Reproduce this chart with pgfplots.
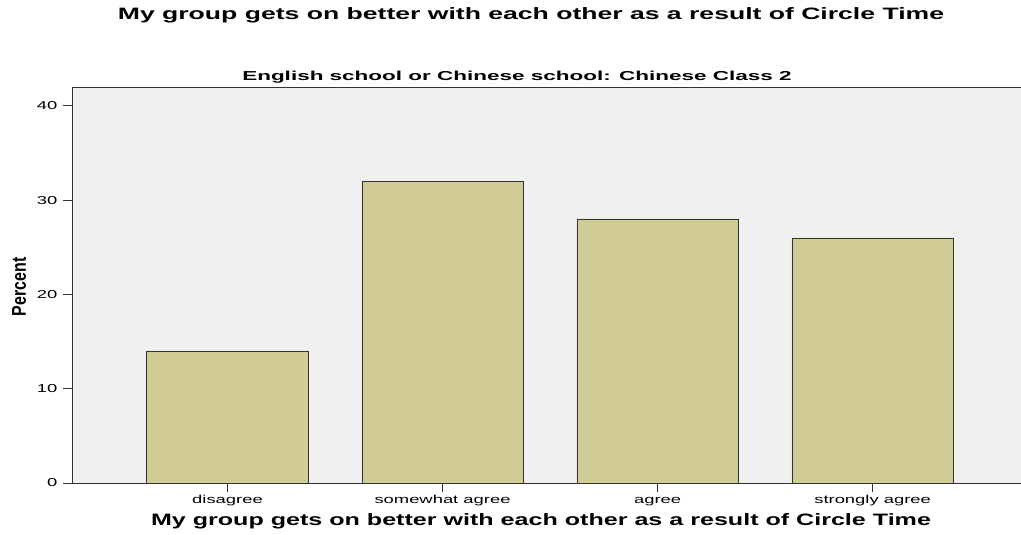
\documentclass[border=0pt]{standalone}
\usepackage{pgfplots}
\pgfplotsset{compat=1.18}
\usepackage{fontspec}
\setmainfont{Liberation Sans}
\definecolor{barfill}{RGB}{209,204,150}
\definecolor{bg}{RGB}{240,240,240}
\begin{document}
\begin{tikzpicture}[x=1pt,y=1pt]
\useasboundingbox (0,0) rectangle (1021,535);
\begin{axis}[
 at={(72pt,52pt)}, anchor=south west,
 scale only axis, width=949pt, height=396pt,
 xmin=-0.723, xmax=3.69, ymin=0, ymax=42,
 axis background/.style={fill=bg},
 axis x line*=box, axis y line*=left,
 axis line style={black!80, line width=0.8pt},
 xtick={0,1,2,3},
 xticklabels={disagree,somewhat agree,agree,strongly agree},
 ytick={0,10,20,30,40},
 xtick pos=bottom, ytick pos=left,
 tick align=outside, major tick length=9pt,
 tick style={black!80, line width=0.8pt},
 /pgf/number format/assume math mode=true,
 tick label style={font=\fontsize{11.5}{13}\selectfont, xscale=1.6},
 xticklabel style={text height=1.6ex, text depth=0.4ex},
 ]
\addplot[ybar, bar width=0.75, fill=barfill, draw=black!80, line width=0.7pt]
 coordinates {(0,14) (1,32) (2,28) (3,26)};
\end{axis}
\node[font=\bfseries\fontsize{16.5}{18}\selectfont, xscale=1.61] at (531,520) {My group gets on better with each other as a result of Circle Time};
\node[font=\bfseries\fontsize{13}{15}\selectfont, xscale=1.73] at (517,458) {English school or Chinese school: Chinese Class 2};
\node[font=\bfseries\fontsize{16.5}{18}\selectfont, xscale=1.52] at (541,14) {My group gets on better with each other as a result of Circle Time};
\node[font=\bfseries\fontsize{20}{22}\selectfont, rotate=90, xscale=0.8] at (19,248) {Percent};
\end{tikzpicture}
\end{document}
